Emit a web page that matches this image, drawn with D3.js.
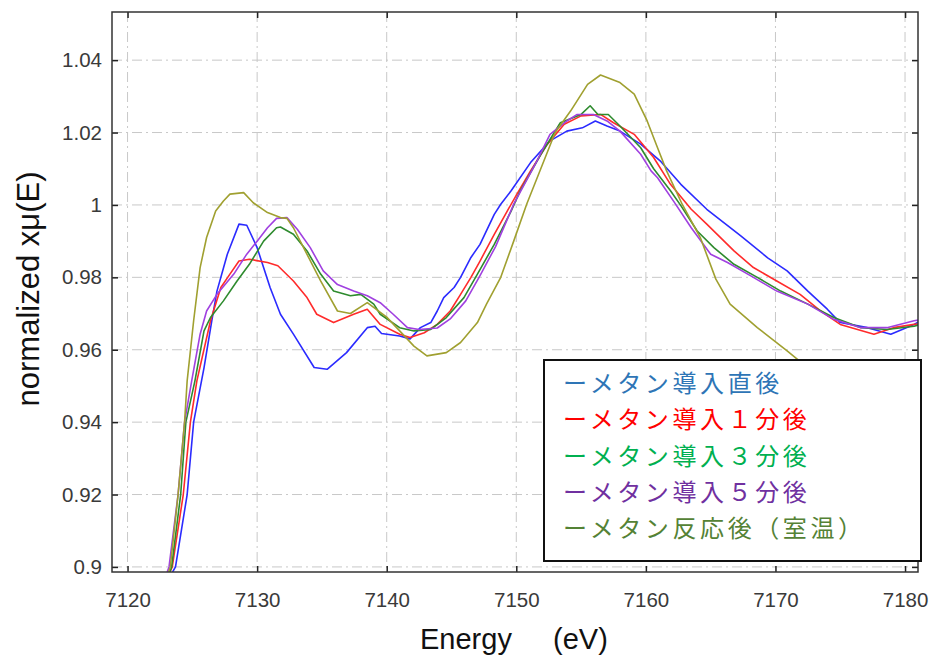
<!DOCTYPE html>
<html>
<head>
<meta charset="utf-8">
<script src="https://cdn.jsdelivr.net/npm/d3@7"></script>
<style>
  body { margin: 0; background: #fff; }
  svg { display: block; }
</style>
</head>
<body>
<svg id="chart" width="934" height="655"></svg>
<script>
// valeurs : [énergie eV, xμ(E) normalisé]
const seriesNames = ['ーメタン導入直後', 'ーメタン導入１分後', 'ーメタン導入３分後', 'ーメタン導入５分後', 'ーメタン反応後（室温）'];

const justAfter = [
  [7122.9,0.895],[7123.7,0.90],[7124.6,0.92],[7125.1,0.94],[7125.9,0.955],[7126.5,0.968],[7126.9,0.9762],
  [7127.7,0.9864],[7128.6,0.9947],[7129.2,0.9944],[7130.0,0.9882],[7131.0,0.9772],[7131.8,0.9698],
  [7132.8,0.9643],[7134.4,0.9551],[7135.4,0.9546],[7136.9,0.9592],[7138.5,0.9661],[7139.1,0.9665],
  [7139.6,0.9645],[7141.0,0.9638],[7141.8,0.963],[7142.6,0.9661],[7143.4,0.9675],[7143.9,0.9707],
  [7144.4,0.9744],[7145.2,0.9772],[7145.7,0.98],[7146.5,0.9855],[7147.2,0.9891],[7148.3,0.9974],
  [7148.8,1.0002],[7149.6,1.0039],[7151.1,1.0117],[7152.6,1.0177],[7153.9,1.0204],[7155.1,1.0213],
  [7156.1,1.0232],[7157,1.0218],[7158,1.0204],[7159.6,1.0168],[7161.1,1.0122],[7162.7,1.0057],
  [7164.7,0.9988],[7167.3,0.9915],[7169.4,0.9854],[7170.9,0.9818],[7172.5,0.9762],[7174.0,0.9712],
  [7175.0,0.9675],[7177.1,0.9661],[7178.9,0.9643],[7180.7,0.967],[7181.2,0.968]
];

const after1min = [
  [7122.8,0.895],[7123.45,0.90],[7124.3,0.92],[7124.85,0.94],[7125.35,0.9514],[7126.4,0.968],[7127.2,0.9772],
  [7127.9,0.9809],[7128.6,0.9845],[7129.4,0.985],[7130.8,0.9841],[7131.6,0.9832],[7132.8,0.979],
  [7133.85,0.9744],[7134.6,0.9698],[7135.9,0.9675],[7137.45,0.9698],[7138.5,0.9712],[7139.5,0.967],
  [7141.0,0.9643],[7141.8,0.9634],[7142.9,0.9647],[7143.9,0.967],[7144.9,0.9707],[7145.7,0.9753],
  [7146.5,0.98],[7147.2,0.9845],[7148.3,0.9919],[7149.3,0.9983],[7150.05,1.003],[7151.1,1.0094],
  [7152.4,1.0168],[7153.7,1.0223],[7155,1.0246],[7156.5,1.025],[7157.5,1.0227],[7159.1,1.0195],
  [7160.6,1.0131],[7161.9,1.0057],[7163.5,0.9988],[7164.7,0.9947],[7166.8,0.9873],[7168.3,0.9827],
  [7170.1,0.979],[7171.9,0.9753],[7173.5,0.9707],[7175,0.967],[7177.6,0.9643],[7179.1,0.9661],
  [7180.7,0.967],[7181.2,0.9672]
];

const after3min = [
  [7122.9,0.895],[7123.4,0.90],[7124.1,0.92],[7124.5,0.94],[7125.2,0.9514],[7125.9,0.9652],[7126.4,0.9689],
  [7127.4,0.9735],[7128.45,0.979],[7129.4,0.9836],[7130.5,0.990],[7131.5,0.9937],[7131.8,0.9939],
  [7132.8,0.9919],[7133.85,0.9873],[7134.9,0.9809],[7135.9,0.9762],[7137.2,0.9749],[7138,0.9753],
  [7139,0.9726],[7139.5,0.9698],[7141.0,0.9661],[7142.1,0.9652],[7143.4,0.9656],[7144.6,0.9689],
  [7145.96,0.9744],[7147.0,0.9809],[7148.3,0.9891],[7149.6,0.9983],[7150.3,1.0039],[7151.9,1.014],
  [7153.4,1.0227],[7155,1.025],[7155.7,1.0274],[7156.3,1.025],[7157.1,1.025],[7158,1.0218],
  [7159.6,1.0158],[7160.6,1.0100],[7161.9,1.0039],[7162.7,0.9998],[7163.96,0.9928],[7165.25,0.9882],
  [7166.8,0.9836],[7168.6,0.98],[7170.4,0.9762],[7172.5,0.9726],[7174.5,0.9689],[7176.6,0.9661],
  [7178.6,0.9656],[7180.7,0.9665],[7181.2,0.967]
];

const after5min = [
  [7122.7,0.895],[7123.2,0.90],[7123.9,0.92],[7124.4,0.94],[7124.95,0.9514],[7125.6,0.9643],[7126.1,0.9707],
  [7126.9,0.9753],[7128.2,0.9809],[7129.2,0.9864],[7130.0,0.990],[7130.8,0.9937],[7131.5,0.9963],
  [7132.3,0.9965],[7133.1,0.9933],[7134.1,0.9882],[7135.1,0.9818],[7136.2,0.978],[7137.45,0.9762],
  [7138.5,0.9749],[7139.5,0.973],[7140.5,0.9698],[7141.6,0.9661],[7142.5,0.9656],[7143.9,0.966],
  [7144.9,0.9685],[7146.1,0.9735],[7147.2,0.9805],[7148.4,0.9885],[7149.8,1.0002],[7151.6,1.0122],
  [7152.6,1.0195],[7153.9,1.0232],[7154.7,1.025],[7155.95,1.025],[7157,1.0232],[7158,1.0204],
  [7159.6,1.014],[7160.4,1.0094],[7160.9,1.0075],[7162.2,1.0007],[7163.5,0.9937],[7165.0,0.9864],
  [7166.3,0.9841],[7168.1,0.9804],[7170.1,0.9762],[7172.5,0.9726],[7174.5,0.9684],[7176.6,0.9661],
  [7178.6,0.9661],[7180.7,0.968],[7181.2,0.9683]
];

const afterReaction = [
  [7122.8,0.895],[7123.3,0.90],[7123.9,0.92],[7124.4,0.94],[7124.6,0.9514],[7125.1,0.968],[7125.6,0.9827],
  [7126.1,0.991],[7126.8,0.9983],[7127.4,1.0011],[7127.9,1.003],[7128.96,1.0034],[7129.7,1.0006],
  [7130.8,0.9979],[7131.8,0.9965],[7132.3,0.9963],[7132.8,0.9937],[7134.9,0.979],[7136.2,0.9707],
  [7137.2,0.970],[7138.5,0.973],[7140,0.969],[7141,0.9652],[7142.1,0.961],[7143.1,0.9583],[7144.6,0.9592],
  [7145.7,0.962],[7147.0,0.9675],[7147.7,0.9726],[7148.8,0.98],[7149.8,0.990],[7150.8,1.0002],
  [7153.0,1.02],[7154.2,1.026],[7155.5,1.0333],[7156.5,1.0359],[7158.0,1.0338],[7159.1,1.0306],
  [7160.1,1.0232],[7160.9,1.0158],[7161.6,1.0094],[7162.8,1.0002],[7164.2,0.991],[7165.4,0.9795],
  [7166.5,0.9726],[7168.6,0.9661],[7170.9,0.9597],[7172.5,0.955],[7175,0.948],[7178,0.942],[7181.2,0.938]
];

const xTicks = [7120, 7130, 7140, 7150, 7160, 7170, 7180];
const yTicks = [0.9, 0.92, 0.94, 0.96, 0.98, 1, 1.02, 1.04];
const yTickLabels = ['0.9', '0.92', '0.94', '0.96', '0.98', '1', '1.02', '1.04'];

const lineColors = ['#2b2bff', '#ff2b2b', '#2e8b2e', '#a040e0', '#a0a030'];
const legendColors = ['#2e75b6', '#ff0000', '#00b050', '#7030a0', '#548235'];

// # Mise en page #
const svg = d3.select('#chart');
const plotLeft = 112, plotRight = 918, plotTop = 12, plotBottom = 572;
const sansFont = '"Liberation Sans", Arial, sans-serif';

const x = d3.scaleLinear().domain([7118.8, 7181.0]).range([plotLeft, plotRight]);
const y = d3.scaleLinear().domain([0.8986, 1.0533]).range([plotBottom, plotTop]);

svg.append('clipPath').attr('id', 'plot-clip')
  .append('rect').attr('x', plotLeft).attr('y', plotTop)
  .attr('width', plotRight - plotLeft).attr('height', plotBottom - plotTop);

// grille en tirets-points
const grid = svg.append('g').attr('stroke', '#c8c8c8').attr('stroke-width', 1).attr('stroke-dasharray', '10,4,2,4');
grid.selectAll('.gx').data(xTicks).join('line').attr('class', 'gx')
  .attr('x1', d => x(d)).attr('x2', d => x(d)).attr('y1', plotTop).attr('y2', plotBottom);
grid.selectAll('.gy').data(yTicks).join('line').attr('class', 'gy')
  .attr('x1', plotLeft).attr('x2', plotRight).attr('y1', d => y(d)).attr('y2', d => y(d));

// courbes
const line = d3.line().x(d => x(d[0])).y(d => y(d[1]));
const allSeries = [justAfter, after1min, after3min, after5min, afterReaction];
svg.append('g').attr('clip-path', 'url(#plot-clip)')
  .selectAll('path').data(allSeries).join('path')
  .attr('d', line)
  .attr('fill', 'none')
  .attr('stroke', (d, i) => lineColors[i])
  .attr('stroke-width', 1.6)
  .attr('stroke-linejoin', 'round');

// axes (graduations vers l'intérieur)
function styleAxis(g) {
  g.select('.domain').remove();
  g.selectAll('.tick line').attr('stroke', '#222').attr('stroke-width', 1.5);
  g.selectAll('.tick text').attr('fill', '#3a3a3a')
    .style('font-family', sansFont).style('font-size', '20.5px');
}

svg.append('g').attr('transform', `translate(0,${plotBottom})`)
  .call(d3.axisBottom(x).tickValues(xTicks).tickFormat(d3.format('d')).tickSizeInner(-6).tickSizeOuter(0).tickPadding(20))
  .call(styleAxis);
svg.append('g').attr('transform', `translate(0,${plotTop})`)
  .call(d3.axisTop(x).tickValues(xTicks).tickFormat('').tickSizeInner(-6).tickSizeOuter(0))
  .call(styleAxis);
svg.append('g').attr('transform', `translate(${plotLeft},0)`)
  .call(d3.axisLeft(y).tickValues(yTicks).tickFormat((d, i) => yTickLabels[i]).tickSizeInner(-6).tickSizeOuter(0).tickPadding(10))
  .call(styleAxis);
svg.append('g').attr('transform', `translate(${plotRight},0)`)
  .call(d3.axisRight(y).tickValues(yTicks).tickFormat('').tickSizeInner(-6).tickSizeOuter(0))
  .call(styleAxis);

svg.append('rect')
  .attr('x', plotLeft).attr('y', plotTop)
  .attr('width', plotRight - plotLeft).attr('height', plotBottom - plotTop)
  .attr('fill', 'none').attr('stroke', '#333').attr('stroke-width', 1.5);

// titres des axes
svg.append('text')
  .attr('transform', 'translate(39,289) rotate(-90)')
  .attr('text-anchor', 'middle')
  .style('font-family', sansFont)
  .style('font-size', '31px')
  .attr('fill', '#111')
  .text('normalized xμ(E)');

const xTitle = svg.append('text')
  .attr('y', 649)
  .style('font-family', sansFont)
  .style('font-size', '29px')
  .attr('fill', '#111');
xTitle.append('tspan').attr('x', 420).text('Energy');
xTitle.append('tspan').attr('x', 553).text('(eV)');

// # Légende #
const legend = svg.append('g');
legend.append('rect')
  .attr('x', 544).attr('y', 360).attr('width', 377).attr('height', 201)
  .attr('fill', '#fff').attr('stroke', '#111').attr('stroke-width', 2);

legend.selectAll('text').data(seriesNames).join('text')
  .attr('x', 563)
  .attr('y', (d, i) => 392 + i * 36.3)
  .attr('fill', (d, i) => legendColors[i])
  .style('font-family', '"Noto Sans CJK JP", sans-serif')
  .style('font-size', '24px')
  .style('letter-spacing', '3.6px')
  .text(d => d);
</script>
</body>
</html>
